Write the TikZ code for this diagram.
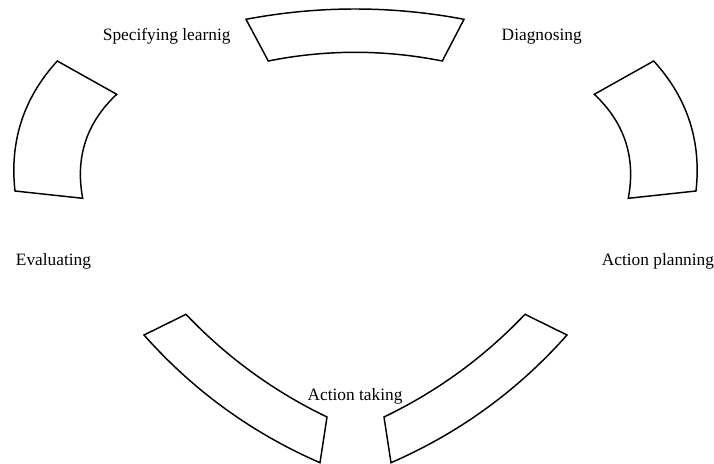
\documentclass[tikz,border=0pt]{standalone}
\usepackage{fontspec}
\setmainfont{Liberation Serif}
\usepackage{tikz}
\usetikzlibrary{calc}
\tikzset{
  faixa/.style={draw=black, line width=1.1pt, line join=miter},
  rotulo/.style={anchor=base, inner sep=0pt, font=\fontsize{13}{15}\selectfont},
}
% #1 #2 #3: outer arc (start, bend, end); #4 #5 #6: inner arc (start, bend, end)
\newcommand{\faixa}[6]{%
  \draw[faixa] (#1) .. controls ($(#1)!2/3!(#2)$) and ($(#3)!2/3!(#2)$) .. (#3)
    -- (#4) .. controls ($(#4)!2/3!(#5)$) and ($(#6)!2/3!(#5)$) .. (#6) -- cycle;}

\begin{document}
\begin{tikzpicture}[x=0.75pt, y=-0.75pt]
    \useasboundingbox (0,0) rectangle (714,464);
    \faixa{246,19.3}{355,-1.3}{464,19.3}{442.3,61}{355,43.6}{268.3,61}
    \faixa{653.7,61}{704.3,116.4}{696,191}{628.3,198.3}{639.8,137}{594.3,94.3}
    \faixa{567,335}{493.1,418.3}{391,462.7}{384,417}{463.9,378.6}{525,314.3}
    \faixa{144,335}{217.9,418.3}{320,462.7}{327,417}{247.1,378.6}{186,314.3}
    \faixa{57.3,61}{6.7,116.4}{15,191}{82.7,198.3}{71.2,137}{116.7,94.3}
    \node[rotulo] (spec) at (166.7,40.7) {Specifying learnig};
    \node[rotulo] (diag) at (541.7,40.7) {Diagnosing};
    \node[rotulo] (plan) at (657.9,265) {Action planning};
    \node[rotulo] (taking) at (355,400.7) {Action taking};
    \node[rotulo] (eval) at (53.5,265) {Evaluating};
\end{tikzpicture}
\end{document}
